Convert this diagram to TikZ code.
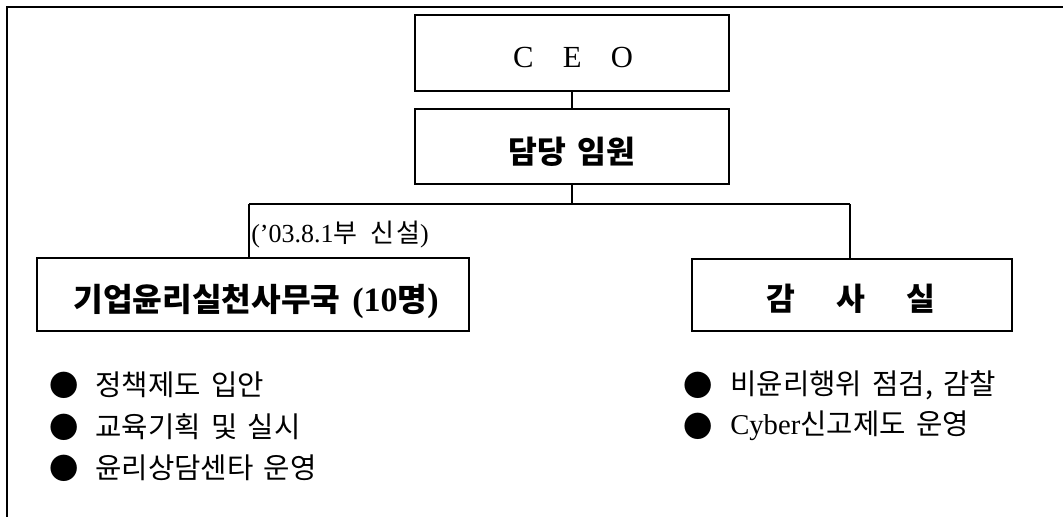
\documentclass[tikz,border=0pt]{standalone}
\usepackage{fontspec}
\setmainfont{Liberation Serif}
\newfontfamily\kr{Noto Sans CJK KR}[WordSpace=2.6]
\newfontfamily\krb{Noto Sans CJK KR}[WordSpace=1.6]
\newfontfamily\krn{Noto Sans CJK KR}[WordSpace=1.6,LetterSpace=8]
\begin{document}
\begin{tikzpicture}[x=0.75pt,y=-0.75pt,
  box/.style={draw,line width=1.5pt,rectangle,inner sep=0pt},
  conn/.style={line width=1.1pt},
  boxtext/.style={inner sep=0pt,font=\krb\bfseries\fontsize{23.5pt}{28pt}\selectfont},
  listtext/.style={anchor=west,inner sep=0pt,font=\fontsize{21.5pt}{26pt}\selectfont},
  bullet/.style={inner sep=0pt,font=\kr\fontsize{22pt}{26pt}\selectfont}]
\useasboundingbox (0,0) rectangle (1063,517);
% outer frame (open at right and bottom)
\draw[line width=1.5pt] (7,517) -- (7,7) -- (1063,7);
% boxes
\node[box,minimum width=235.5pt,minimum height=57pt] (ceo) at (572,53) {};
\node[box,minimum width=235.5pt,minimum height=56.25pt] (dd) at (572,146.5) {};
\node[box,minimum width=324pt,minimum height=54.75pt] (ethics) at (253,294.5) {};
\node[box,minimum width=240pt,minimum height=54pt] (audit) at (852,295) {};
% box texts
\node[inner sep=0pt,font=\fontsize{23pt}{27pt}\selectfont] (ceot) at (573,57.5) {C\hspace{22pt}E\hspace{22pt}O};
\node[boxtext] (ddt) at (572,152) {담당 임원};
\node[boxtext,font=\krb\bfseries\fontsize{24.2pt}{28pt}\selectfont] (ethicst) at (256,301) {기업윤리실천사무국 {\rmfamily\bfseries\fontsize{25.5pt}{28pt}\selectfont (10}명{\rmfamily\bfseries\fontsize{25.5pt}{28pt}\selectfont )}};
\node[boxtext] (auditt) at (851,299) {감\hspace{31pt}사\hspace{31pt}실};
% connectors
\coordinate (hl) at (249,204);
\coordinate (hr) at (850,204);
\draw[conn] (ceo) -- (dd);
\draw[conn] (dd.south) -- (dd.south |- hl);
\draw[conn] (hl) -- (hr);
\draw[conn] (hl) -- (hl |- ethics.north);
\draw[conn] (hr) -- (hr |- audit.north);
% note
\node[anchor=west,inner sep=0pt,font=\fontsize{19.5pt}{23pt}\selectfont] (note) at (251,235) {(’03.8.1{\krn 부 신설})};
% left list
\node[bullet] (lb1) at (64,385) {●};
\node[bullet] (lb2) at (64,427) {●};
\node[bullet] (lb3) at (64,468) {●};
\node[listtext] (lt1) at (95,385) {\kr 정책제도 입안};
\node[listtext] (lt2) at (95,427) {\kr 교육기획 및 실시};
\node[listtext] (lt3) at (95,468) {\kr 윤리상담센타 운영};
% right list
\node[bullet] (rb1) at (698,385) {●};
\node[bullet] (rb2) at (698,426) {●};
\node[listtext] (rt1) at (730,385) {\kr 비윤리행위 점검, 감찰};
\node[listtext] (rt2) at (730,426) {Cyber{\kr 신고제도 운영}};
\end{tikzpicture}
\end{document}
